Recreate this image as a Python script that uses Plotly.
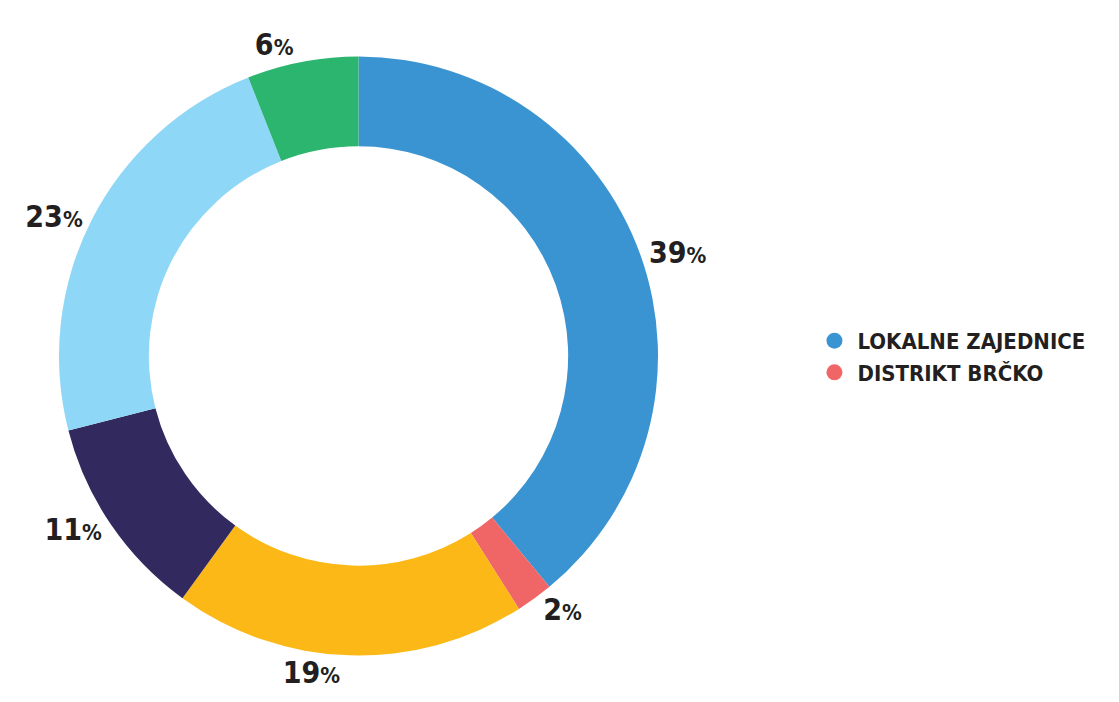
import plotly.graph_objects as go

labels = ["Lokalne zajednice", "Distrikt Brčko", "Kategorija 3", "Kategorija 4", "Kategorija 5", "Kategorija 6"]
values = [39, 2, 19, 11, 23, 6]
colors = ["#3a94d2", "#f06566", "#fbb817", "#32295e", "#8fd7f6", "#2cb56f"]
legend_names = ["LOKALNE ZAJEDNICE", "DISTRIKT BRČKO"]
legend_colors = ["#3a94d2", "#f06566"]

FONT = "DejaVu Sans Condensed, Liberation Sans Narrow, sans-serif"
TXT = "#231f20"

text = [f"<b>{v}<span style='font-size:22px'>%</span></b>" for v in values]

fig = go.Figure()
fig.add_trace(go.Pie(
    labels=labels, values=values, text=text, textinfo="text",
    textposition="outside", sort=False, direction="clockwise", rotation=0,
    hole=0.70, marker=dict(colors=colors, line=dict(width=0)),
    textfont=dict(family=FONT, size=30, color=TXT),
    domain=dict(x=[51/1119, 650/1119], y=[1-647.5/702, 1-48.5/702]),
    showlegend=False, hoverinfo="label+percent",
))
for n, c in zip(legend_names, legend_colors):
    fig.add_trace(go.Scatter(x=[None], y=[None], mode="markers", name=f"<b>{n}</b>",
                             marker=dict(color=c, size=18)))

fig.update_layout(
    width=1119, height=702,
    margin=dict(l=0, r=0, t=0, b=0),
    paper_bgcolor="white", plot_bgcolor="white",
    xaxis=dict(visible=False), yaxis=dict(visible=False),
    legend=dict(x=0.718, y=0.503, xanchor="left", yanchor="middle",
                font=dict(family=FONT, size=22, color=TXT),
                itemwidth=36, tracegroupgap=2),
)
fig.write_html("out.html")
